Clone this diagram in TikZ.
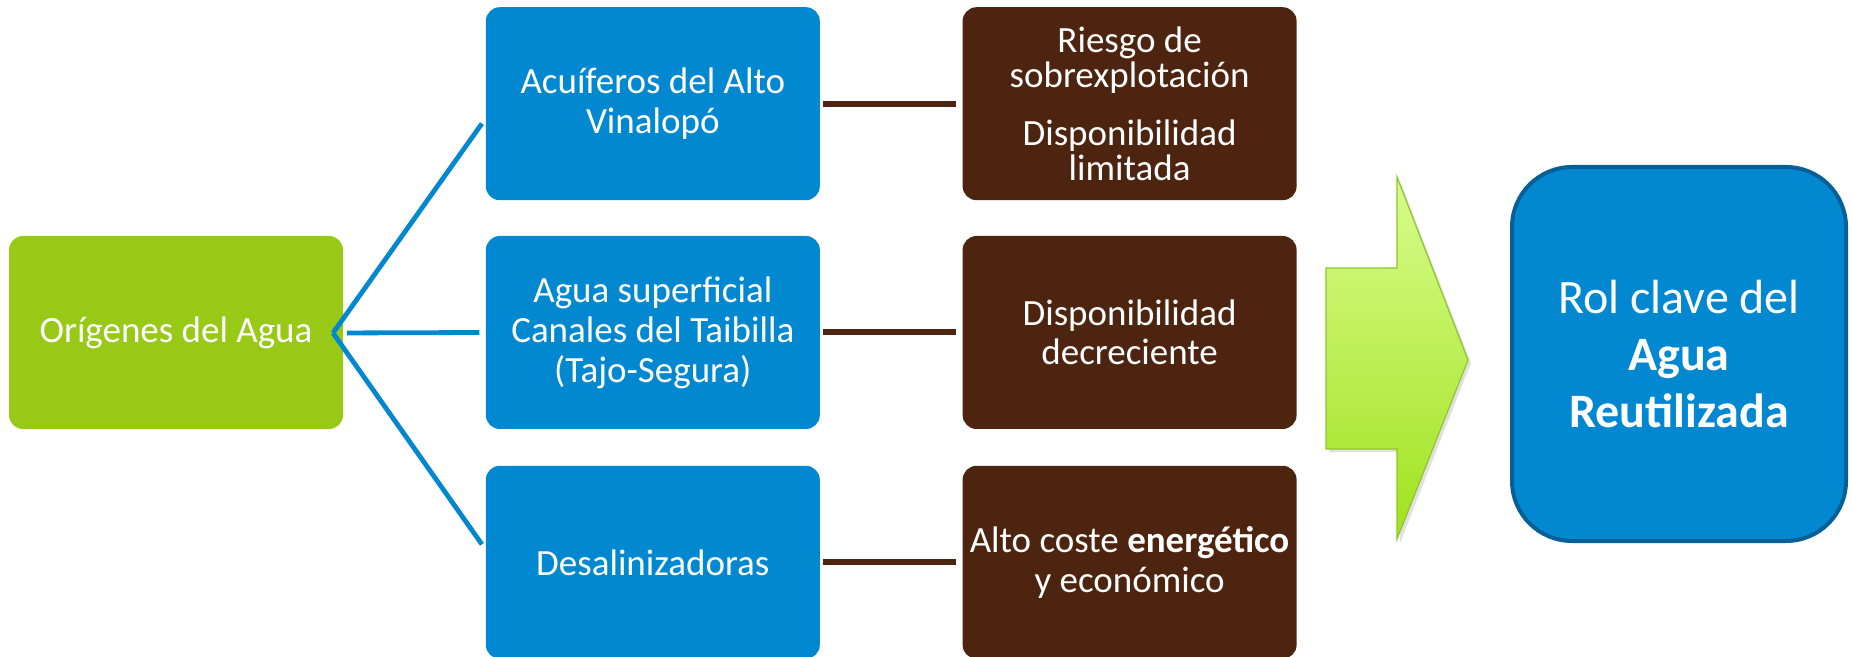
\documentclass[tikz,border=0pt]{standalone}
\usepackage{fontspec}
\setmainfont{Carlito}
\usepackage{xcolor}
\usepackage{tikz}
\usetikzlibrary{positioning}

\definecolor{leafgreen}{RGB}{151,201,22}
\definecolor{waterblue}{RGB}{2,136,209}
\definecolor{soilbrown}{RGB}{77,36,16}
\definecolor{deepblue}{RGB}{6,96,150}
\definecolor{arrowtop}{RGB}{216,252,140}
\definecolor{arrowbot}{RGB}{160,226,30}
\definecolor{arrowedge}{RGB}{140,198,40}

\begin{document}
\begin{tikzpicture}[
    x=0.5pt, y=-0.5pt,
    box/.style={rounded corners=7pt, text=white, align=center, inner sep=2pt,
        minimum width=167pt, minimum height=96.5pt,
        font=\fontsize{18.5}{20}\selectfont},
    origin/.style={box, fill=leafgreen},
    source/.style={box, fill=waterblue},
    issue/.style={box, fill=soilbrown},
    result/.style={box, fill=waterblue, draw=deepblue, line width=2pt,
        rounded corners=30pt, minimum width=167pt, minimum height=187pt,
        font=\fontsize{24}{28.5}\selectfont},
    branch/.style={draw=waterblue, line width=2.4pt},
    link/.style={draw=soilbrown, line width=3pt}
]
\useasboundingbox (0,0) rectangle (1852,657);

% sources
\node[origin] (orig) at (176,332.5) {Orígenes del Agua};
\node[source, right=71pt of orig] (src2) {Agua superficial\\Canales del Taibilla\\(Tajo-Segura)};
\node[source, above=17.5pt of src2] (src1) {Acuíferos del Alto\\Vinalopó};
\node[source, below=18pt of src2] (src3) {Desalinizadoras};

% problems
\node[issue, right=71pt of src1, font=\fontsize{18.5}{17.5}\selectfont] (iss1)
    {Riesgo de\\sobrexplotación\\[11.5pt]Disponibilidad\\limitada};
\node[issue, right=71pt of src2, font=\fontsize{18.5}{19.5}\selectfont] (iss2)
    {Disponibilidad\\decreciente};
\node[issue, right=71pt of src3] (iss3)
    {Alto coste \textbf{energético}\\y económico};

% outcome
\node[result] (role) at (1679,354) {Rol clave del\\\textbf{Agua}\\\textbf{Reutilizada}};

% branches
\coordinate (hub) at (333,333);
\draw[branch, shorten >=3pt] (hub) -- ([yshift=-7.5pt]src1.west);
\draw[branch, shorten <=7pt, shorten >=3pt] (hub) -- (src2.west);
\draw[branch, shorten >=3pt] (hub) -- ([yshift=6.5pt]src3.west);

\draw[link, shorten <=1.5pt, shorten >=3pt] (src1) -- (iss1);
\draw[link, shorten <=1.5pt, shorten >=3pt] (src2) -- (iss2);
\draw[link, shorten <=1.5pt, shorten >=3pt] (src3) -- (iss3);

% big arrow
\fill[black, opacity=0.12] (1329,271) -- (1400,271) -- (1400,181) -- (1471,363)
    -- (1400,543) -- (1400,452) -- (1329,452) -- cycle;
\draw[arrowedge, line width=0.6pt, top color=arrowtop, bottom color=arrowbot]
    (1326,268) -- (1397,268) -- (1397,177) -- (1468,360)
    -- (1397,539) -- (1397,449) -- (1326,449) -- cycle;
\end{tikzpicture}
\end{document}
